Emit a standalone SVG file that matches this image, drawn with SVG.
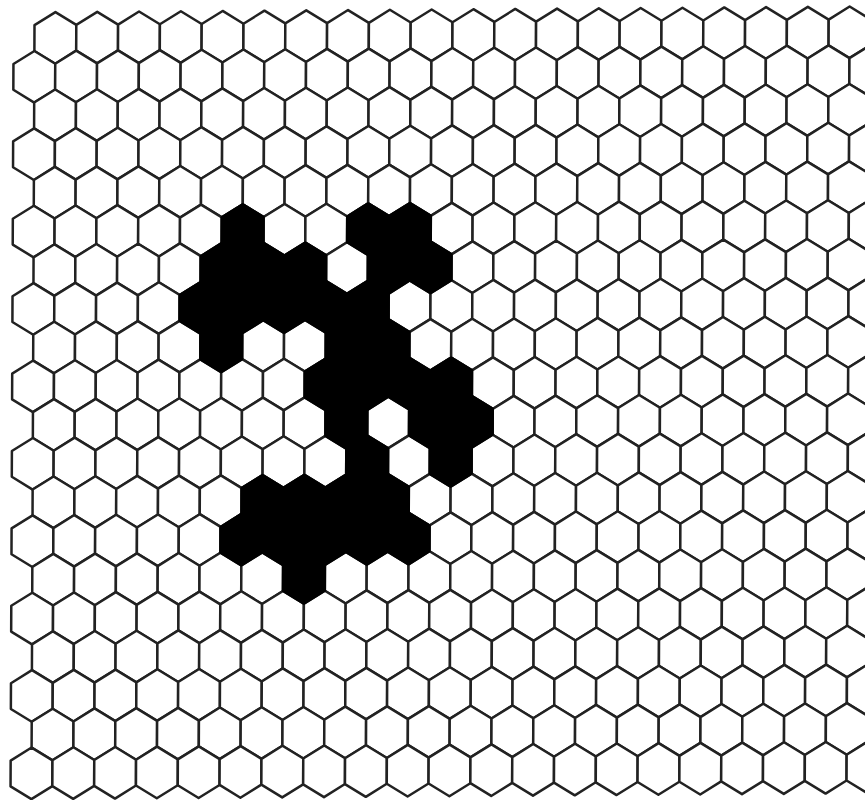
<svg xmlns="http://www.w3.org/2000/svg" xmlns:xlink="http://www.w3.org/1999/xlink" width="865" height="800" viewBox="0 0 865 800">
<style>
.cell{fill:#ffffff;stroke:#222222;stroke-width:2.5;stroke-linejoin:round}
.on{fill:#000000;stroke:#000000;stroke-width:2.5;stroke-linejoin:round}
</style>
<defs>
<polygon id="hex" points="0,-25.8 20.9,-12.9 20.9,12.9 0,25.8 -20.9,12.9 -20.9,-12.9"/>
<g id="row">
<use href="#hex" x="0"/><use href="#hex" x="41.8"/><use href="#hex" x="83.6"/><use href="#hex" x="125.4"/><use href="#hex" x="167.2"/><use href="#hex" x="209"/><use href="#hex" x="250.8"/><use href="#hex" x="292.6"/><use href="#hex" x="334.4"/><use href="#hex" x="376.2"/><use href="#hex" x="418"/><use href="#hex" x="459.8"/><use href="#hex" x="501.6"/><use href="#hex" x="543.4"/><use href="#hex" x="585.2"/><use href="#hex" x="627"/><use href="#hex" x="668.8"/><use href="#hex" x="710.6"/><use href="#hex" x="752.4"/><use href="#hex" x="794.2"/>
</g>
</defs>
<rect width="865" height="800" fill="#ffffff"/>
<g transform="matrix(1,-0.007,-0.004,1,0,0)">
<g id="grid" class="cell">
<use href="#row" x="55.5" y="38.3"/>
<use href="#row" x="34.6" y="77"/><use href="#hex" x="870.6" y="77"/>
<use href="#row" x="55.5" y="115.7"/>
<use href="#row" x="34.6" y="154.4"/><use href="#hex" x="870.6" y="154.4"/>
<use href="#row" x="55.5" y="193.1"/>
<use href="#row" x="34.6" y="231.8"/><use href="#hex" x="870.6" y="231.8"/>
<use href="#row" x="55.5" y="270.5"/>
<use href="#row" x="34.6" y="309.2"/><use href="#hex" x="870.6" y="309.2"/>
<use href="#row" x="55.5" y="347.9"/>
<use href="#row" x="34.6" y="386.6"/><use href="#hex" x="870.6" y="386.6"/>
<use href="#row" x="55.5" y="425.3"/>
<use href="#row" x="34.6" y="464"/><use href="#hex" x="870.6" y="464"/>
<use href="#row" x="55.5" y="502.7"/>
<use href="#row" x="34.6" y="541.4"/><use href="#hex" x="870.6" y="541.4"/>
<use href="#row" x="55.5" y="580.1"/>
<use href="#row" x="34.6" y="618.8"/><use href="#hex" x="870.6" y="618.8"/>
<use href="#row" x="55.5" y="657.5"/>
<use href="#row" x="34.6" y="696.2"/><use href="#hex" x="870.6" y="696.2"/>
<use href="#row" x="55.5" y="734.9"/>
<use href="#row" x="34.6" y="773.6"/><use href="#hex" x="870.6" y="773.6"/>
</g>
<g id="filled" class="on">
<use href="#hex" x="243.6" y="231.8"/><use href="#hex" x="369" y="231.8"/><use href="#hex" x="410.8" y="231.8"/>
<use href="#hex" x="222.7" y="270.5"/><use href="#hex" x="264.5" y="270.5"/><use href="#hex" x="306.3" y="270.5"/><use href="#hex" x="389.9" y="270.5"/><use href="#hex" x="431.7" y="270.5"/>
<use href="#hex" x="201.8" y="309.2"/><use href="#hex" x="243.6" y="309.2"/><use href="#hex" x="285.4" y="309.2"/><use href="#hex" x="327.2" y="309.2"/><use href="#hex" x="369" y="309.2"/>
<use href="#hex" x="222.7" y="347.9"/><use href="#hex" x="348.1" y="347.9"/><use href="#hex" x="389.9" y="347.9"/>
<use href="#hex" x="327.2" y="386.6"/><use href="#hex" x="369" y="386.6"/><use href="#hex" x="410.8" y="386.6"/><use href="#hex" x="452.6" y="386.6"/>
<use href="#hex" x="348.1" y="425.3"/><use href="#hex" x="431.7" y="425.3"/><use href="#hex" x="473.5" y="425.3"/>
<use href="#hex" x="369" y="464"/><use href="#hex" x="452.6" y="464"/>
<use href="#hex" x="264.5" y="502.7"/><use href="#hex" x="306.3" y="502.7"/><use href="#hex" x="348.1" y="502.7"/><use href="#hex" x="389.9" y="502.7"/>
<use href="#hex" x="243.6" y="541.4"/><use href="#hex" x="285.4" y="541.4"/><use href="#hex" x="327.2" y="541.4"/><use href="#hex" x="369" y="541.4"/><use href="#hex" x="410.8" y="541.4"/>
<use href="#hex" x="306.3" y="580.1"/>
</g>
</g>
</svg>
